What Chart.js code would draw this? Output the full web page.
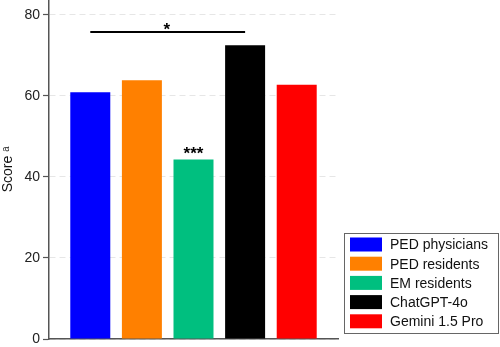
<!DOCTYPE html>
<html lang="en">
<head>
  <meta charset="UTF-8" />
  <title>Score by group</title>
  <script src="https://cdn.jsdelivr.net/npm/chart.js"></script>
  <style>
    body { margin: 0; background: #fff; }
    #wrap { width: 500px; height: 347px; }
  </style>
</head>
<body>
  <div id="wrap"><canvas id="scores"></canvas></div>

  <script>
    // data
    const groups = ['PED physicians', 'PED residents', 'EM residents', 'ChatGPT-4o', 'Gemini 1.5 Pro'];
    const scores = [60.9, 63.9, 44.3, 72.5, 62.8];
    const colors = ['#0000FF', '#FF8000', '#00BF7F', '#000000', '#FF0000'];
    const yTicks = [0, 20, 40, 60, 80];
    // significance: bracket from group 1 to group 4, and a mark over group 3
    const bracket = { from: 1, to: 4, y: 75.8, label: '*' };
    const barMark = { group: 3, label: '***' };

    const FONT = 'Helvetica, Arial, "Liberation Sans", sans-serif';

    const annotations = {
      id: 'annotations',
      afterDatasetsDraw(chart) {
        const { ctx, scales: { x, y } } = chart;
        ctx.save();
        // bracket line
        const yb = y.getPixelForValue(bracket.y);
        ctx.strokeStyle = '#000';
        ctx.lineWidth = 2;
        ctx.beginPath();
        ctx.moveTo(x.getPixelForValue(bracket.from), yb);
        ctx.lineTo(x.getPixelForValue(bracket.to), yb);
        ctx.stroke();
        ctx.fillStyle = '#000';
        ctx.font = 'bold 17px ' + FONT;
        ctx.textAlign = 'center';
        ctx.textBaseline = 'alphabetic';
        ctx.fillText(bracket.label, x.getPixelForValue((bracket.from + bracket.to) / 2) - 1, yb + 3);
        // stars above bar
        const ys = y.getPixelForValue(scores[barMark.group - 1]);
        ctx.fillText(barMark.label, x.getPixelForValue(barMark.group), ys - 1);
        ctx.restore();
      },
      afterDraw(chart) {
        // boxed legend at lower right
        const { ctx } = chart;
        const bx = 344, by = 233, bw = 154, bh = 100;
        ctx.save();
        ctx.strokeStyle = '#666';
        ctx.lineWidth = 1;
        ctx.strokeRect(bx + 0.5, by + 0.5, bw, bh);
        ctx.font = '14px ' + FONT;
        ctx.textAlign = 'left';
        ctx.textBaseline = 'middle';
        groups.forEach((g, i) => {
          const cy = by + 11.5 + i * 19.2;
          ctx.fillStyle = colors[i];
          ctx.fillRect(bx + 6, cy - 7, 32, 14);
          ctx.fillStyle = '#111';
          ctx.fillText(g, bx + 46, cy + 1);
        });
        ctx.restore();
      }
    };

    new Chart(document.getElementById('scores'), {
      type: 'bar',
      data: {
        datasets: [{
          data: scores.map((v, i) => ({ x: i + 1, y: v })),
          backgroundColor: colors,
          borderWidth: 0,
          barPercentage: 0.775,
          categoryPercentage: 1
        }]
      },
      options: {
        responsive: true,
        maintainAspectRatio: false,
        animation: false,
        layout: { padding: { top: 0, right: 162, bottom: 8, left: 0 } },
        plugins: {
          legend: { display: false },
          tooltip: { enabled: false }
        },
        scales: {
          x: {
            type: 'linear',
            offset: false,
            min: 0.2,
            max: 5.8,
            // one tick per group so bar width follows the group spacing
            afterBuildTicks(s) { s.ticks = groups.map((g, i) => ({ value: i + 1 })); },
            ticks: { display: false },
            grid: { display: false, drawTicks: false },
            border: { display: true, color: '#555', width: 1.5 },
            afterFit(s) { s.height = 0; s.paddingLeft = 0; s.paddingRight = 0; }
          },
          y: {
            min: 0,
            max: 83.7,
            afterBuildTicks(s) { s.ticks = yTicks.map(v => ({ value: v })); },
            ticks: {
              color: '#222',
              font: { size: 14, family: FONT },
              padding: 3
            },
            grid: {
              color: '#e6e6e6',
              lineWidth: 1,
              tickColor: '#555',
              tickLength: 6,
              tickWidth: 1.2,
              tickBorderDash: []
            },
            border: { display: true, color: '#555', width: 1.5, dash: [6, 4] },
            title: {
              display: true,
              text: 'Score ᵃ',
              color: '#111',
              font: { size: 14, family: FONT },
              padding: 0
            },
            afterFit(s) { s.width = 49; s.paddingTop = 0; s.paddingBottom = 0; }
          }
        }
      },
      plugins: [annotations]
    });
  </script>
</body>
</html>
